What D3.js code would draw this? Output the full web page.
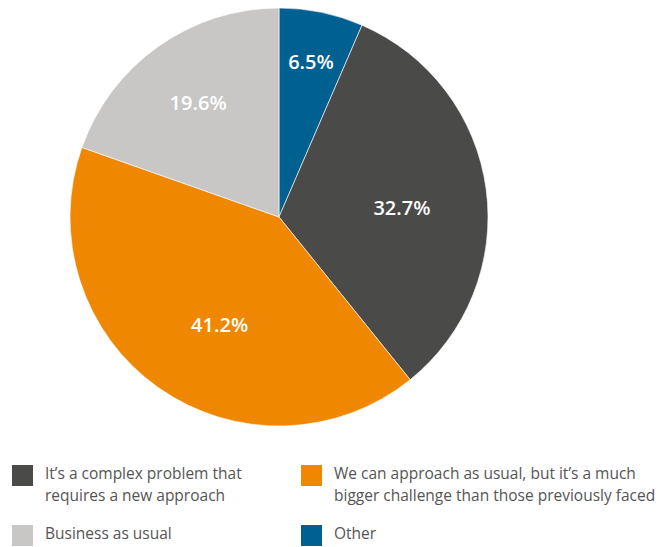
<!DOCTYPE html>
<html>
<head>
<meta charset="utf-8">
<script src="https://cdn.jsdelivr.net/npm/d3@7"></script>
<style>
  html, body { margin: 0; padding: 0; background: #fff; }
  svg { display: block; }
</style>
</head>
<body>
<svg id="chart" width="659" height="547"></svg>
<script>
// Survey responses, in drawing order (clockwise from 12 o'clock)
const categories = [
  "Other",
  "It\u2019s a complex problem that requires a new approach",
  "We can approach as usual, but it\u2019s a much bigger challenge than those previously faced",
  "Business as usual"
];
const shares = [6.5, 32.7, 41.2, 19.6];
const colors = ["#006090", "#4a4a49", "#f08700", "#c8c7c6"];

// Legend layout: order and wrapped lines
const legendOrder = [1, 2, 3, 0];
const legendLines = [
  ["Other"],
  ["It\u2019s a complex problem that", "requires a new approach"],
  ["We can approach as usual, but it\u2019s a much", "bigger challenge than those previously faced"],
  ["Business as usual"]
];

const svg = d3.select("#chart");
const cx = 279, cy = 217, R = 209;

const pie = d3.pie().sort(null).value(d => d)(shares);
const arc = d3.arc().innerRadius(0).outerRadius(R);

const g = svg.append("g").attr("transform", `translate(${cx},${cy})`);

g.selectAll("path.slice")
  .data(pie)
  .join("path")
  .attr("class", "slice")
  .attr("d", arc)
  .attr("fill", (d, i) => colors[i])
  .attr("stroke", "#fff")
  .attr("stroke-width", 0.6);

// Percentage labels inside the slices
const labelRadius = d => (d.endAngle - d.startAngle) < 0.5 ? R * 0.755 : (d.endAngle - d.startAngle) < 1.5 ? R * 0.67 : R * 0.59;
const labelNudge = [0, -3.5, 6.5, 0];
g.selectAll("text.pct")
  .data(pie)
  .join("text")
  .attr("class", "pct")
  .each(function (d, i) {
    const a = (d.startAngle + d.endAngle) / 2 - labelNudge[i] * Math.PI / 180;
    const r = labelRadius(d);
    d3.select(this)
      .attr("x", Math.sin(a) * r)
      .attr("y", -Math.cos(a) * r);
  })
  .attr("text-anchor", "middle")
  .attr("dy", "0.35em")
  .attr("fill", "#fff")
  .attr("font-family", "'Open Sans', sans-serif")
  .attr("font-weight", 600)
  .attr("font-size", 20)
  .text(d => d3.format(".1f")(d.data) + "%");

// Legend: two columns, two rows
const colX = [12, 301];
const rowY = [465, 525];
const legend = svg.append("g");
legendOrder.forEach((idx, k) => {
  const x = colX[k % 2], y = rowY[Math.floor(k / 2)];
  const item = legend.append("g").attr("transform", `translate(${x},${y})`);
  item.append("rect")
    .attr("width", 21).attr("height", 21)
    .attr("fill", colors[idx]);
  const t = item.append("text")
    .attr("x", 33)
    .attr("y", 14)
    .attr("fill", "#555")
    .attr("font-family", "'Open Sans', sans-serif")
    .attr("font-size", 15.5);
  legendLines[idx].forEach((line, j) => {
    t.append("tspan").attr("x", 33).attr("dy", j === 0 ? 0 : 22).text(line);
  });
});
</script>
</body>
</html>
